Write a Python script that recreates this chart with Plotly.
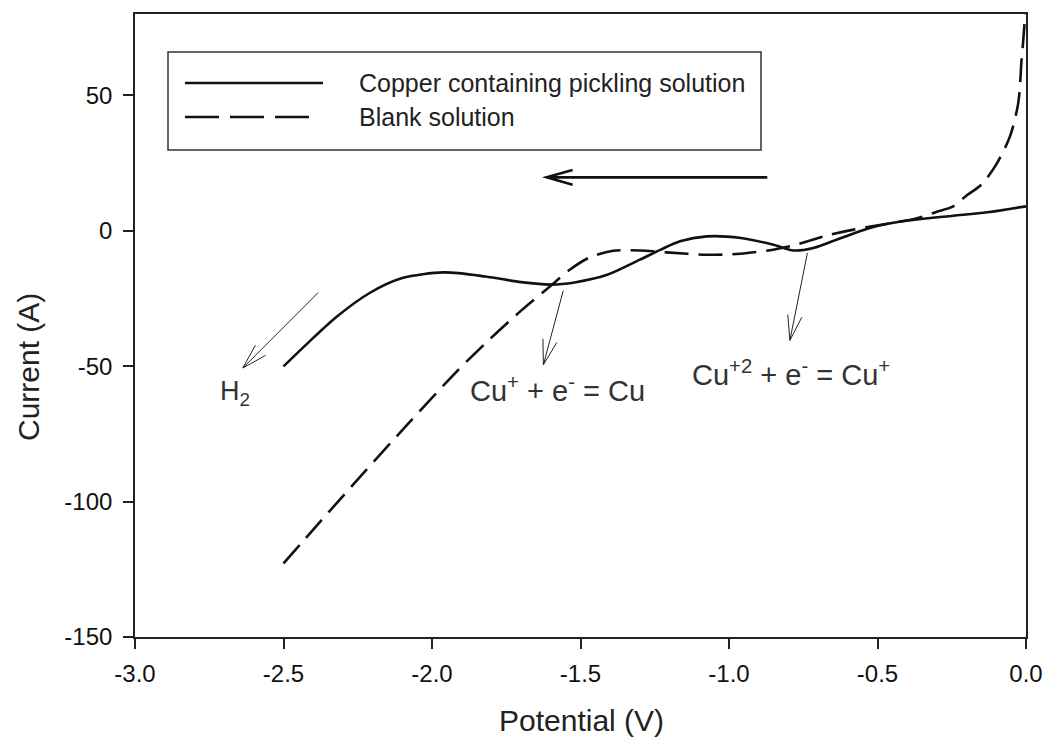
import math
import plotly.graph_objects as go

# ---------------- data ----------------
potential_cu = [-2.50, -2.43, -2.32, -2.21, -2.10, -1.96, -1.82, -1.70, -1.60, -1.52,
                -1.41, -1.30, -1.23, -1.165, -1.075, -0.96, -0.85, -0.784, -0.716,
                -0.63, -0.58, -0.52, -0.47, -0.36, -0.245, -0.13, 0.0]
current_cu = [-50.1, -42.7, -31.7, -23.0, -17.5, -15.4, -16.9, -19.0, -19.9, -19.1,
              -16.3, -10.7, -7.0, -3.9, -2.1, -2.7, -5.2, -7.3, -6.4,
              -3.0, -1.0, 1.2, 2.5, 4.2, 5.5, 6.8, 9.0]

potential_blank = [-2.50, -2.377, -2.231, -2.074, -1.917, -1.805, -1.70, -1.603, -1.535,
                   -1.468, -1.39, -1.30, -1.21, -1.075, -0.963, -0.851, -0.784, -0.66,
                   -0.58, -0.47, -0.37, -0.30, -0.245, -0.20, -0.15, -0.10, -0.054,
                   -0.026, -0.015, -0.009, -0.003, 0.0]
current_blank = [-122.8, -107.5, -89.5, -70.5, -52.0, -40.0, -29.5, -20.6, -14.3,
                 -9.8, -7.4, -7.3, -8.0, -8.9, -8.5, -7.0, -5.5, -1.5,
                 0.4, 2.5, 4.5, 7.0, 9.0, 13.0, 17.0, 24.5, 34.8,
                 47.2, 63.0, 70.6, 80.0, 90.0]

series_names = ["Copper containing pickling solution", "Blank solution"]
x_ticks = [-3.0, -2.5, -2.0, -1.5, -1.0, -0.5, 0.0]
x_ticktext = ["-3.0", "-2.5", "-2.0", "-1.5", "-1.0", "-0.5", "0.0"]
y_ticks = [-150, -100, -50, 0, 50]
y_ticktext = ["-150", "-100", "-50", "0", "50"]

# ---------------- geometry helpers ----------------
W, H = 1046, 739
L, R, T, B = 135, 1026, 14, 637
X0, X1 = -3.0, 0.0
Y0, Y1 = -150.0, 80.0


def to_px(x, y):
    return (L + (x - X0) / (X1 - X0) * (R - L), B - (y - Y0) / (Y1 - Y0) * (B - T))


def to_data(px, py):
    return (X0 + (px - L) / (R - L) * (X1 - X0), Y0 + (B - py) / (B - T) * (Y1 - Y0))


def to_paper(px, py):
    return ((px - L) / (R - L), (B - py) / (B - T))


def arrow_path(start, tip, wing=26, ang=16):
    sx, sy = to_px(*start)
    tx, ty = to_px(*tip)
    dx, dy = sx - tx, sy - ty
    n = math.hypot(dx, dy)
    ux, uy = dx / n, dy / n
    pts = []
    for s in (1, -1):
        a = math.radians(ang * s)
        wx = ux * math.cos(a) - uy * math.sin(a)
        wy = ux * math.sin(a) + uy * math.cos(a)
        pts.append(to_data(tx + wx * wing, ty + wy * wing))
    return ("M {},{} L {},{} M {},{} L {},{} L {},{}".format(
        start[0], start[1], tip[0], tip[1],
        pts[0][0], pts[0][1], tip[0], tip[1], pts[1][0], pts[1][1]))


fig = go.Figure()
fig.add_trace(go.Scatter(x=potential_cu, y=current_cu, mode="lines", name=series_names[0],
                         line=dict(color="#111111", width=2.6, shape="spline", smoothing=0.8)))
fig.add_trace(go.Scatter(x=potential_blank, y=current_blank, mode="lines", name=series_names[1],
                         line=dict(color="#111111", width=2.6, dash="24px,10px",
                                   shape="spline", smoothing=0.8)))

shapes = []
# annotation arrows (thin)
thin_arrows = [((-2.383, -22.8), (-2.637, -50.7)),
               ((-1.558, -22.1), (-1.625, -49.5)),
               ((-0.736, -8.2), (-0.795, -40.5))]
for st, tp in thin_arrows:
    shapes.append(dict(type="path", xref="x", yref="y", path=arrow_path(st, tp),
                       line=dict(color="#222222", width=1)))
# scan direction arrow (thick)
shapes.append(dict(type="path", xref="x", yref="y",
                   path=arrow_path((-0.871, 19.7), (-1.614, 19.7), wing=27, ang=16),
                   line=dict(color="#111111", width=2.6)))

# legend box
bx0, by0 = to_data(168, 150)
bx1, by1 = to_data(761, 52)
shapes.append(dict(type="rect", xref="x", yref="y", x0=bx0, y0=by0, x1=bx1, y1=by1,
                   line=dict(color="#333333", width=1.5), fillcolor="rgba(0,0,0,0)"))
lx0, ly1 = to_data(185, 83)
lx1, _ = to_data(323, 83)
shapes.append(dict(type="line", xref="x", yref="y", x0=lx0, x1=lx1, y0=ly1, y1=ly1,
                   line=dict(color="#111111", width=2.6)))
lx0b, ly2 = to_data(185, 117)
lx1b, _ = to_data(311, 117)
shapes.append(dict(type="line", xref="x", yref="y", x0=lx0b, x1=lx1b, y0=ly2, y1=ly2,
                   line=dict(color="#111111", width=2.6, dash="34px,11px")))

annotations = []
tx_leg, _ = to_data(357, 0)
annotations.append(dict(x=tx_leg, y=ly1, xref="x", yref="y", text=series_names[0],
                        showarrow=False, xanchor="left", yanchor="middle",
                        font=dict(size=25, color="#222222")))
annotations.append(dict(x=tx_leg, y=ly2, xref="x", yref="y", text=series_names[1],
                        showarrow=False, xanchor="left", yanchor="middle",
                        font=dict(size=25, color="#222222")))

labels = [("H<sub>2</sub>", 218, 393, "left", 27),
          ("Cu<sup>+</sup> + e<sup>-</sup> = Cu", 557, 389, "center", 29),
          ("Cu<sup>+2</sup> + e<sup>-</sup> = Cu<sup>+</sup>", 791, 373, "center", 29)]
for txt, px, py, xa, fs in labels:
    dx, dy = to_data(px, py)
    annotations.append(dict(x=dx, y=dy, xref="x", yref="y", text=txt, showarrow=False,
                            xanchor=xa, yanchor="middle",
                            font=dict(size=fs, color="#333333")))

# axis titles (placed in paper coordinates outside the plot area)
pxp, pyp = to_paper(581, 720)
annotations.append(dict(x=pxp, y=pyp, xref="paper", yref="paper",
                        text="Potential (V)", showarrow=False, xanchor="center",
                        yanchor="middle", font=dict(size=30, color="#222222")))
cxp, cyp = to_paper(28, 367)
annotations.append(dict(x=cxp, y=cyp, xref="paper", yref="paper",
                        text="Current (A)", showarrow=False, textangle=-90,
                        xanchor="center", yanchor="middle",
                        font=dict(size=30, color="#222222")))

axis_common = dict(showgrid=False, zeroline=False, showline=True, linewidth=1.6,
                   linecolor="#222222", mirror=True, ticks="outside", ticklen=10,
                   tickwidth=1.6, tickcolor="#222222", automargin=False,
                   tickfont=dict(size=24, color="#111111"))

fig.update_layout(
    width=W, height=H,
    margin=dict(l=L, r=W - R, t=T, b=H - B, autoexpand=False),
    paper_bgcolor="white", plot_bgcolor="white",
    font=dict(family="Arial, Liberation Sans, sans-serif"),
    showlegend=False,
    shapes=shapes, annotations=annotations,
    xaxis=dict(range=[X0, X1], tickvals=x_ticks, ticktext=x_ticktext,
               ticklabelstandoff=4, **axis_common),
    yaxis=dict(range=[Y0, Y1], tickvals=y_ticks, ticktext=y_ticktext,
               ticklabelstandoff=6, **axis_common),
)

fig.write_html("out.html")
